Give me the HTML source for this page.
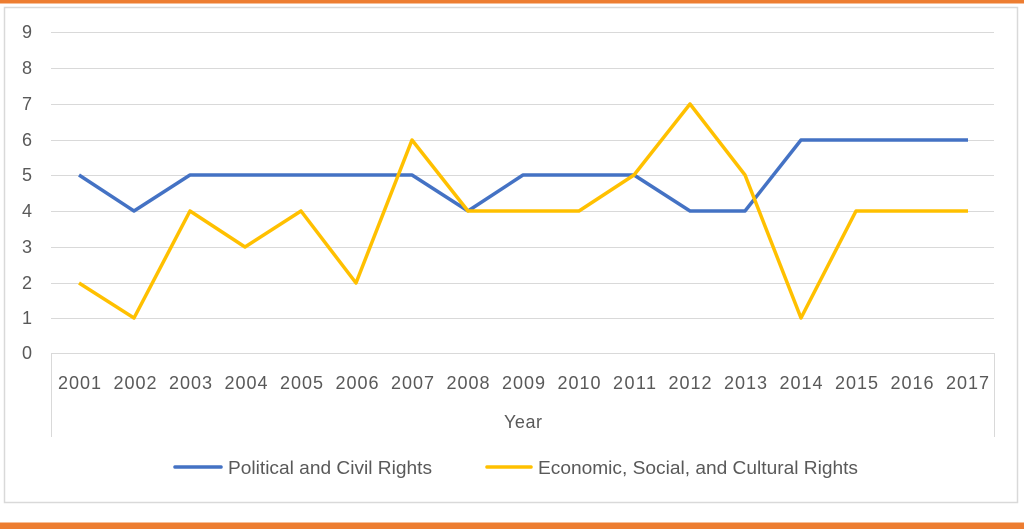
<!DOCTYPE html>
<html><head><style>body{margin:0;background:#fff}svg{display:block}text{font-family:"Liberation Sans",sans-serif;fill:#595959}</style></head><body>
<svg width="1024" height="529" viewBox="0 0 1024 529">
<rect x="0" y="0" width="1024" height="3.5" fill="#ed7d31"/>
<rect x="0" y="522.5" width="1024" height="6.5" fill="#ed7d31"/>
<rect x="4.5" y="7.5" width="1013" height="495" fill="#fff" stroke="#d9d9d9" stroke-width="1.5"/>
<g stroke="#d9d9d9" stroke-width="1">
<line x1="51" x2="994" y1="32.5" y2="32.5"/><line x1="51" x2="994" y1="68.5" y2="68.5"/><line x1="51" x2="994" y1="104.5" y2="104.5"/><line x1="51" x2="994" y1="140.5" y2="140.5"/><line x1="51" x2="994" y1="175.5" y2="175.5"/><line x1="51" x2="994" y1="211.5" y2="211.5"/><line x1="51" x2="994" y1="247.5" y2="247.5"/><line x1="51" x2="994" y1="283.5" y2="283.5"/><line x1="51" x2="994" y1="318.5" y2="318.5"/><line x1="51" x2="994" y1="353.5" y2="353.5"/>
<line x1="51.5" x2="51.5" y1="353" y2="437"/><line x1="994.5" x2="994.5" y1="353" y2="437"/>
</g>
<g font-size="18" text-anchor="middle">
<text x="27" y="38">9</text><text x="27" y="74">8</text><text x="27" y="110">7</text><text x="27" y="146">6</text><text x="27" y="181">5</text><text x="27" y="217">4</text><text x="27" y="253">3</text><text x="27" y="289">2</text><text x="27" y="324">1</text><text x="27" y="359">0</text>
</g>
<g font-size="18" text-anchor="middle" lengthAdjust="spacingAndGlyphs">
<text x="79.5" y="389" textLength="43">2001</text><text x="135" y="389" textLength="43">2002</text><text x="190.5" y="389" textLength="43">2003</text><text x="246" y="389" textLength="43">2004</text><text x="301.5" y="389" textLength="43">2005</text><text x="357" y="389" textLength="43">2006</text><text x="412.5" y="389" textLength="43">2007</text><text x="468" y="389" textLength="43">2008</text><text x="523.5" y="389" textLength="43">2009</text><text x="579" y="389" textLength="43">2010</text><text x="634.5" y="389" textLength="43">2011</text><text x="690" y="389" textLength="43">2012</text><text x="745.5" y="389" textLength="43">2013</text><text x="801" y="389" textLength="43">2014</text><text x="856.5" y="389" textLength="43">2015</text><text x="912" y="389" textLength="43">2016</text><text x="967.5" y="389" textLength="43">2017</text>
<text x="523" y="428" textLength="38">Year</text>
</g>
<polyline fill="none" stroke="#4472c4" stroke-width="3.5" stroke-linejoin="round" points="79,175 134,211 190,175 245,175 301,175 356,175 412,175 468,211 523,175 579,175 634,175 690,211 745,211 801,140 856,140 912,140 968,140"/>
<polyline fill="none" stroke="#ffc000" stroke-width="3.5" stroke-linejoin="round" points="79,283 134,318 190,211 245,247 301,211 356,283 412,140 468,211 523,211 579,211 634,175 690,104 745,175 801,318 856,211 912,211 968,211"/>
<line x1="175" x2="221" y1="467" y2="467" stroke="#4472c4" stroke-width="3.5" stroke-linecap="round"/>
<text x="228" y="474" font-size="18" textLength="204" lengthAdjust="spacingAndGlyphs">Political and Civil Rights</text>
<line x1="487" x2="531" y1="467" y2="467" stroke="#ffc000" stroke-width="3.5" stroke-linecap="round"/>
<text x="538" y="474" font-size="18" textLength="320" lengthAdjust="spacingAndGlyphs">Economic, Social, and Cultural Rights</text>
</svg></body></html>
